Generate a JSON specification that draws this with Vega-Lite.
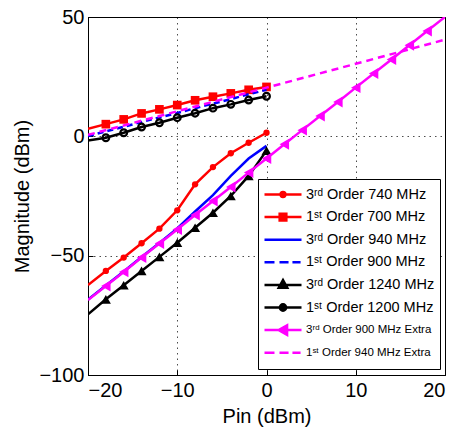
{
  "$schema": "https://vega.github.io/schema/vega-lite/v6.json",
  "width": 357,
  "height": 358,
  "padding": {"left": 12, "top": 7, "right": 5, "bottom": 2},
  "background": "white",
  "config": {
    "view": {"stroke": "black", "strokeWidth": 1},
    "font": "Liberation Sans",
    "axis": {
      "labelFont": "Liberation Sans", "labelFontSize": 20, "labelColor": "black",
      "titleFont": "Liberation Sans", "titleFontSize": 20, "titleFontWeight": "normal", "titleColor": "black",
      "domainColor": "black", "tickColor": "black", "gridColor": "black", "gridDash": [1.5, 4], "gridOpacity": 0.7,
      "tickSize": -5, "labelPadding": 9, "titlePadding": 6
    },
    "axisX": {"labelPadding": 10}
  },
  "data": {"values": [
    {"s": "3ʳᵈ Order 740 MHz", "x": -20, "y": -62.3},
    {"s": "3ʳᵈ Order 740 MHz", "x": -18, "y": -56.4},
    {"s": "3ʳᵈ Order 740 MHz", "x": -16, "y": -50.8},
    {"s": "3ʳᵈ Order 740 MHz", "x": -14, "y": -44.8},
    {"s": "3ʳᵈ Order 740 MHz", "x": -12, "y": -38.7},
    {"s": "3ʳᵈ Order 740 MHz", "x": -10, "y": -31},
    {"s": "3ʳᵈ Order 740 MHz", "x": -8, "y": -20.1},
    {"s": "3ʳᵈ Order 740 MHz", "x": -6, "y": -12.9},
    {"s": "3ʳᵈ Order 740 MHz", "x": -4, "y": -7.1},
    {"s": "3ʳᵈ Order 740 MHz", "x": -2, "y": -2.7},
    {"s": "3ʳᵈ Order 740 MHz", "x": 0, "y": 1.5},
    {"s": "1ˢᵗ Order 700 MHz", "x": -20, "y": 3.2},
    {"s": "1ˢᵗ Order 700 MHz", "x": -18, "y": 5.1},
    {"s": "1ˢᵗ Order 700 MHz", "x": -16, "y": 7.1},
    {"s": "1ˢᵗ Order 700 MHz", "x": -14, "y": 9.6},
    {"s": "1ˢᵗ Order 700 MHz", "x": -12, "y": 11.3},
    {"s": "1ˢᵗ Order 700 MHz", "x": -10, "y": 13.1},
    {"s": "1ˢᵗ Order 700 MHz", "x": -8, "y": 15.1},
    {"s": "1ˢᵗ Order 700 MHz", "x": -6, "y": 16.6},
    {"s": "1ˢᵗ Order 700 MHz", "x": -4, "y": 18},
    {"s": "1ˢᵗ Order 700 MHz", "x": -2, "y": 19.5},
    {"s": "1ˢᵗ Order 700 MHz", "x": 0, "y": 20.7},
    {"s": "3ʳᵈ Order 940 MHz", "x": -20, "y": -68.4},
    {"s": "3ʳᵈ Order 940 MHz", "x": -18, "y": -62.5},
    {"s": "3ʳᵈ Order 940 MHz", "x": -16, "y": -56.6},
    {"s": "3ʳᵈ Order 940 MHz", "x": -14, "y": -50.6},
    {"s": "3ʳᵈ Order 940 MHz", "x": -12, "y": -44.7},
    {"s": "3ʳᵈ Order 940 MHz", "x": -10, "y": -38.6},
    {"s": "3ʳᵈ Order 940 MHz", "x": -8, "y": -31.5},
    {"s": "3ʳᵈ Order 940 MHz", "x": -6, "y": -24.6},
    {"s": "3ʳᵈ Order 940 MHz", "x": -4, "y": -16.6},
    {"s": "3ʳᵈ Order 940 MHz", "x": -2, "y": -9.3},
    {"s": "3ʳᵈ Order 940 MHz", "x": 0, "y": -4},
    {"s": "1ˢᵗ Order 900 MHz", "x": -20, "y": 0.1},
    {"s": "1ˢᵗ Order 900 MHz", "x": -18, "y": 2.1},
    {"s": "1ˢᵗ Order 900 MHz", "x": -16, "y": 4.0},
    {"s": "1ˢᵗ Order 900 MHz", "x": -14, "y": 6.0},
    {"s": "1ˢᵗ Order 900 MHz", "x": -12, "y": 7.9},
    {"s": "1ˢᵗ Order 900 MHz", "x": -10, "y": 9.8},
    {"s": "1ˢᵗ Order 900 MHz", "x": -8, "y": 11.8},
    {"s": "1ˢᵗ Order 900 MHz", "x": -6, "y": 13.7},
    {"s": "1ˢᵗ Order 900 MHz", "x": -4, "y": 15.6},
    {"s": "1ˢᵗ Order 900 MHz", "x": -2, "y": 17.6},
    {"s": "1ˢᵗ Order 900 MHz", "x": 0, "y": 19.5},
    {"s": "3ʳᵈ Order 1240 MHz", "x": -20, "y": -74.6},
    {"s": "3ʳᵈ Order 1240 MHz", "x": -18, "y": -68.3},
    {"s": "3ʳᵈ Order 1240 MHz", "x": -16, "y": -62.4},
    {"s": "3ʳᵈ Order 1240 MHz", "x": -14, "y": -56.4},
    {"s": "3ʳᵈ Order 1240 MHz", "x": -12, "y": -50.5},
    {"s": "3ʳᵈ Order 1240 MHz", "x": -10, "y": -44.6},
    {"s": "3ʳᵈ Order 1240 MHz", "x": -8, "y": -38.3},
    {"s": "3ʳᵈ Order 1240 MHz", "x": -6, "y": -32},
    {"s": "3ʳᵈ Order 1240 MHz", "x": -4, "y": -25},
    {"s": "3ʳᵈ Order 1240 MHz", "x": -2, "y": -16.6},
    {"s": "3ʳᵈ Order 1240 MHz", "x": 0, "y": -6},
    {"s": "1ˢᵗ Order 1200 MHz", "x": -20, "y": -1.7},
    {"s": "1ˢᵗ Order 1200 MHz", "x": -18, "y": -0.6},
    {"s": "1ˢᵗ Order 1200 MHz", "x": -16, "y": 1.5},
    {"s": "1ˢᵗ Order 1200 MHz", "x": -14, "y": 3.9},
    {"s": "1ˢᵗ Order 1200 MHz", "x": -12, "y": 5.7},
    {"s": "1ˢᵗ Order 1200 MHz", "x": -10, "y": 7.8},
    {"s": "1ˢᵗ Order 1200 MHz", "x": -8, "y": 9.7},
    {"s": "1ˢᵗ Order 1200 MHz", "x": -6, "y": 11.8},
    {"s": "1ˢᵗ Order 1200 MHz", "x": -4, "y": 13.4},
    {"s": "1ˢᵗ Order 1200 MHz", "x": -2, "y": 15.2},
    {"s": "1ˢᵗ Order 1200 MHz", "x": 0, "y": 16.8},
    {"s": "3ʳᵈ Order 900 MHz Extra", "x": -20, "y": -68.6},
    {"s": "3ʳᵈ Order 900 MHz Extra", "x": -18, "y": -62.7},
    {"s": "3ʳᵈ Order 900 MHz Extra", "x": -16, "y": -56.8},
    {"s": "3ʳᵈ Order 900 MHz Extra", "x": -14, "y": -50.8},
    {"s": "3ʳᵈ Order 900 MHz Extra", "x": -12, "y": -44.9},
    {"s": "3ʳᵈ Order 900 MHz Extra", "x": -10, "y": -39},
    {"s": "3ʳᵈ Order 900 MHz Extra", "x": -8, "y": -33},
    {"s": "3ʳᵈ Order 900 MHz Extra", "x": -6, "y": -27.1},
    {"s": "3ʳᵈ Order 900 MHz Extra", "x": -4, "y": -21.2},
    {"s": "3ʳᵈ Order 900 MHz Extra", "x": -2, "y": -15.2},
    {"s": "3ʳᵈ Order 900 MHz Extra", "x": 0, "y": -9.3},
    {"s": "3ʳᵈ Order 900 MHz Extra", "x": 2, "y": -3.3},
    {"s": "3ʳᵈ Order 900 MHz Extra", "x": 4, "y": 2.6},
    {"s": "3ʳᵈ Order 900 MHz Extra", "x": 6, "y": 8.5},
    {"s": "3ʳᵈ Order 900 MHz Extra", "x": 8, "y": 14.4},
    {"s": "3ʳᵈ Order 900 MHz Extra", "x": 10, "y": 20.4},
    {"s": "3ʳᵈ Order 900 MHz Extra", "x": 12, "y": 26.3},
    {"s": "3ʳᵈ Order 900 MHz Extra", "x": 14, "y": 32.2},
    {"s": "3ʳᵈ Order 900 MHz Extra", "x": 16, "y": 38.2},
    {"s": "3ʳᵈ Order 900 MHz Extra", "x": 18, "y": 44.1},
    {"s": "3ʳᵈ Order 900 MHz Extra", "x": 20, "y": 50},
    {"s": "1ˢᵗ Order 940 MHz Extra", "x": -20, "y": 0.6},
    {"s": "1ˢᵗ Order 940 MHz Extra", "x": -10, "y": 10.5},
    {"s": "1ˢᵗ Order 940 MHz Extra", "x": 0, "y": 20.4},
    {"s": "1ˢᵗ Order 940 MHz Extra", "x": 10, "y": 30.4},
    {"s": "1ˢᵗ Order 940 MHz Extra", "x": 20, "y": 40.5}
  ]},
  "encoding": {
    "x": {"field": "x", "type": "quantitative", "scale": {"domain": [-20, 20]}, "axis": {"values": [-20, -10, 0, 10, 20], "title": "Pin (dBm)"}},
    "y": {"field": "y", "type": "quantitative", "scale": {"domain": [-100, 50]}, "axis": {"values": [-100, -50, 0, 50], "title": "Magnitude (dBm)"}}
  },
  "layer": [
    {"transform": [{"filter": {"field": "s", "equal": "3ʳᵈ Order 740 MHz"}}], "mark": {"type": "line", "color": "#ff0000", "strokeWidth": 2.5, "clip": true}},
    {"transform": [{"filter": {"field": "s", "equal": "3ʳᵈ Order 740 MHz"}}, {"filter": "datum.x > -20"}], "mark": {"type": "point", "shape": "circle", "filled": true, "color": "#ff0000", "size": 40, "opacity": 1, "clip": true}},
    {"transform": [{"filter": {"field": "s", "equal": "1ˢᵗ Order 700 MHz"}}], "mark": {"type": "line", "color": "#ff0000", "strokeWidth": 2.5, "clip": true}},
    {"transform": [{"filter": {"field": "s", "equal": "1ˢᵗ Order 700 MHz"}}, {"filter": "datum.x > -20"}], "mark": {"type": "point", "shape": "square", "filled": true, "color": "#ff0000", "size": 75, "opacity": 1, "clip": true}},
    {"transform": [{"filter": {"field": "s", "equal": "3ʳᵈ Order 940 MHz"}}], "mark": {"type": "line", "color": "#0000ff", "strokeWidth": 2.5, "clip": true}},
    {"transform": [{"filter": {"field": "s", "equal": "1ˢᵗ Order 900 MHz"}}], "mark": {"type": "line", "color": "#0000ff", "strokeWidth": 2.5, "strokeDash": [6, 4], "clip": true}},
    {"transform": [{"filter": {"field": "s", "equal": "3ʳᵈ Order 1240 MHz"}}], "mark": {"type": "line", "color": "#000000", "strokeWidth": 2.5, "clip": true}},
    {"transform": [{"filter": {"field": "s", "equal": "3ʳᵈ Order 1240 MHz"}}, {"filter": "datum.x > -20"}], "mark": {"type": "point", "shape": "triangle-up", "filled": true, "color": "#000000", "size": 100, "opacity": 1, "clip": true}},
    {"transform": [{"filter": {"field": "s", "equal": "1ˢᵗ Order 1200 MHz"}}], "mark": {"type": "line", "color": "#000000", "strokeWidth": 2.5, "clip": true}},
    {"transform": [{"filter": {"field": "s", "equal": "1ˢᵗ Order 1200 MHz"}}, {"filter": "datum.x > -20"}], "mark": {"type": "point", "shape": "circle", "filled": false, "color": "#000000", "strokeWidth": 2.2, "size": 45, "opacity": 1, "clip": true}},
    {"transform": [{"filter": {"field": "s", "equal": "3ʳᵈ Order 900 MHz Extra"}}], "mark": {"type": "line", "color": "#ff00ff", "strokeWidth": 2.5, "clip": true}},
    {"transform": [{"filter": {"field": "s", "equal": "3ʳᵈ Order 900 MHz Extra"}}, {"filter": "datum.x > -20 && datum.x < 20"}], "mark": {"type": "point", "shape": "triangle-left", "filled": true, "color": "#ff00ff", "size": 120, "opacity": 1, "clip": true}},
    {"transform": [{"filter": {"field": "s", "equal": "1ˢᵗ Order 940 MHz Extra"}}], "mark": {"type": "line", "color": "#ff00ff", "strokeWidth": 2.5, "strokeDash": [7, 5], "clip": true}},
    {
      "transform": [{"filter": "false"}],
      "mark": {"type": "point", "opacity": 1, "strokeWidth": 2.5},
      "encoding": {
        "fill": {"field": "s", "type": "nominal",
          "scale": {"domain": ["3ʳᵈ Order 740 MHz", "1ˢᵗ Order 700 MHz", "3ʳᵈ Order 940 MHz", "1ˢᵗ Order 900 MHz", "3ʳᵈ Order 1240 MHz", "1ˢᵗ Order 1200 MHz", "3ʳᵈ Order 900 MHz Extra", "1ˢᵗ Order 940 MHz Extra"],
                    "range": ["#ff0000", "#ff0000", "#0000ff", "#0000ff", "#000000", "#000000", "#ff00ff", "#ff00ff"]},
          "legend": {"title": null, "orient": "none", "legendX": 170, "legendY": 162, "padding": 5, "strokeColor": "black", "fillColor": "white", "symbolSize": 1369, "symbolStrokeWidth": 2.5, "clipHeight": 21, "rowPadding": 1.6, "labelOffset": 3, "labelFont": "Liberation Sans", "labelColor": "black", "labelLimit": 300,
            "labelFontSize": {"expr": "datum && indexof(datum.label + '', 'Extra') >= 0 ? 11.5 : 14.5"}}},
        "stroke": {"field": "s", "type": "nominal",
          "scale": {"domain": ["3ʳᵈ Order 740 MHz", "1ˢᵗ Order 700 MHz", "3ʳᵈ Order 940 MHz", "1ˢᵗ Order 900 MHz", "3ʳᵈ Order 1240 MHz", "1ˢᵗ Order 1200 MHz", "3ʳᵈ Order 900 MHz Extra", "1ˢᵗ Order 940 MHz Extra"],
                    "range": ["#ff0000", "#ff0000", "#0000ff", "#0000ff", "#000000", "#000000", "#ff00ff", "#ff00ff"]},
          "legend": {"title": null, "orient": "none", "legendX": 170, "legendY": 162, "padding": 5, "strokeColor": "black", "fillColor": "white", "symbolSize": 1369, "symbolStrokeWidth": 2.5, "clipHeight": 21, "rowPadding": 1.6, "labelOffset": 3, "labelFont": "Liberation Sans", "labelColor": "black", "labelLimit": 300,
            "labelFontSize": {"expr": "datum && indexof(datum.label + '', 'Extra') >= 0 ? 11.5 : 14.5"}}},
        "shape": {"field": "s", "type": "nominal",
          "scale": {"domain": ["3ʳᵈ Order 740 MHz", "1ˢᵗ Order 700 MHz", "3ʳᵈ Order 940 MHz", "1ˢᵗ Order 900 MHz", "3ʳᵈ Order 1240 MHz", "1ˢᵗ Order 1200 MHz", "3ʳᵈ Order 900 MHz Extra", "1ˢᵗ Order 940 MHz Extra"],
                    "range": [
                      "M-1,0H1M0.13,0A0.13,0.13,0,1,1,-0.13,0A0.13,0.13,0,1,1,0.13,0Z",
                      "M-1,0H1M-0.18,-0.18H0.18V0.18H-0.18Z",
                      "M-1,0H1",
                      "M-1,0H-0.46M-0.19,0H0.3M0.51,0H0.95",
                      "M-1,0H1M0,-0.26L0.23,0.16L-0.23,0.16Z",
                      "M-1,0H1M0.17,0A0.17,0.17,0,1,1,-0.17,0A0.17,0.17,0,1,1,0.17,0Z",
                      "M-1,0H1M-0.24,0L0.22,-0.26L0.22,0.26Z",
                      "M-1,0H-0.46M-0.19,0H0.3M0.51,0H0.95"
                    ]},
          "legend": {"title": null, "orient": "none", "legendX": 170, "legendY": 162, "padding": 5, "strokeColor": "black", "fillColor": "white", "symbolSize": 1369, "symbolStrokeWidth": 2.5, "clipHeight": 21, "rowPadding": 1.6, "labelOffset": 3, "labelFont": "Liberation Sans", "labelColor": "black", "labelLimit": 300,
            "labelFontSize": {"expr": "datum && indexof(datum.label + '', 'Extra') >= 0 ? 11.5 : 14.5"}}}
      }
    }
  ]
}
